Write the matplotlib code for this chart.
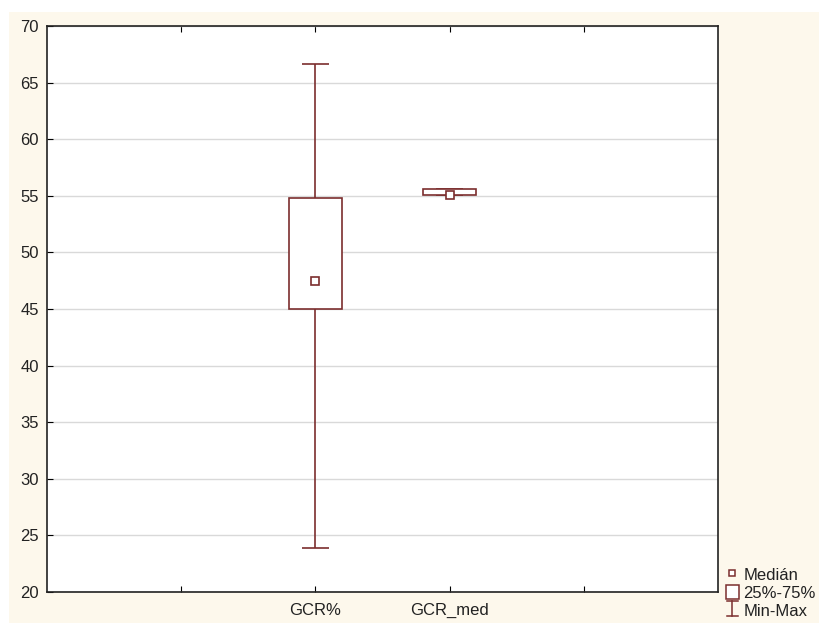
import matplotlib.pyplot as plt
import matplotlib.patches as mpatches
from matplotlib.lines import Line2D
from matplotlib.legend_handler import HandlerBase
import numpy as np

# datos
categorias = ['GCR%', 'GCR_med']
posiciones = [2, 3]
medianas = [47.5, 55.05]
q25 = [45.0, 55.05]
q75 = [54.8, 55.6]
minimos = [23.9, 55.05]
maximos = [66.6, 55.6]

color = '#7b2e2e'
crema = '#fdf8ec'

plt.rcParams['font.family'] = ['Liberation Sans', 'DejaVu Sans']


class HandlerMinMax(HandlerBase):
    # simbolo tipo "I" con tapas arriba y abajo
    def create_artists(self, legend, orig_handle, xd, yd, w, h, fontsize, trans):
        cx = xd + w / 2
        y0 = yd - 0.1 * h
        y1 = yd + 1.0 * h
        c = 0.4 * w
        l1 = Line2D([cx, cx], [y0, y1], color=color, lw=1.1, transform=trans)
        l2 = Line2D([cx - c, cx + c], [y1, y1], color=color, lw=1.1, transform=trans)
        l3 = Line2D([cx - c, cx + c], [y0, y0], color=color, lw=1.1, transform=trans)
        return [l1, l2, l3]


fig = plt.figure(figsize=(8.2, 6.23), dpi=100)
fig.patch.set_facecolor('white')
fondo = mpatches.Rectangle((9/820, 0), 1, (623-12)/623, transform=fig.transFigure,
                           facecolor=crema, edgecolor='none', zorder=-10)
fig.patches.append(fondo)

ax = fig.add_axes([47/820, 31/623, (718-47)/820, (592-26)/623])
ax.set_facecolor('white')

# bigotes min-max
for x, lo, hi in zip(posiciones, minimos, maximos):
    ax.vlines(x, lo, hi, color=color, lw=1.2, zorder=2)
    ax.hlines([lo, hi], x-0.1, x+0.1, color=color, lw=1.2, zorder=2)

# cajas 25%-75%
for x, a, b in zip(posiciones, q25, q75):
    caja = mpatches.Rectangle((x-0.2, a), 0.4, b-a, facecolor='white',
                              edgecolor=color, lw=1.2, zorder=3)
    ax.add_patch(caja)

# medianas
ax.plot(posiciones, medianas, ls='none', marker='s', ms=6, mfc='white',
        mec=color, mew=1.2, zorder=4)

ax.set_xlim(0, 5)
ax.set_ylim(20, 70)
ax.set_xticks([1, 2, 3, 4])
ax.set_xticklabels(['', categorias[0], categorias[1], ''])
ax.set_yticks(np.arange(20, 71, 5))
ax.yaxis.grid(True, color='#d9d9d9', lw=1)
ax.set_axisbelow(True)
ax.tick_params(axis='x', direction='in', top=True, length=4, labelsize=12, pad=8,
               labelcolor='#222222')
ax.tick_params(axis='y', direction='in', length=4, labelsize=12, pad=6,
               labelcolor='#222222')
for s in ax.spines.values():
    s.set_linewidth(1.2)
    s.set_color('#222222')

# leyenda
h_med = Line2D([], [], ls='none', marker='s', ms=5, mfc='white', mec=color, mew=1.1)
h_caja = mpatches.Patch(facecolor='white', edgecolor=color, lw=1.1)
h_mm = object()
fig.legend([h_med, h_caja, h_mm], ['Medián', '25%-75%', 'Min-Max'],
           handler_map={h_mm: HandlerMinMax()},
           loc='lower left', bbox_to_anchor=(724/820, 0.004), frameon=False,
           fontsize=12, handlelength=0.8, handleheight=0.9, handletextpad=0.25,
           labelspacing=0.15, borderpad=0.0, borderaxespad=0.1,
           labelcolor='#222222')

plt.savefig('out.png', dpi=100, facecolor=fig.get_facecolor())
